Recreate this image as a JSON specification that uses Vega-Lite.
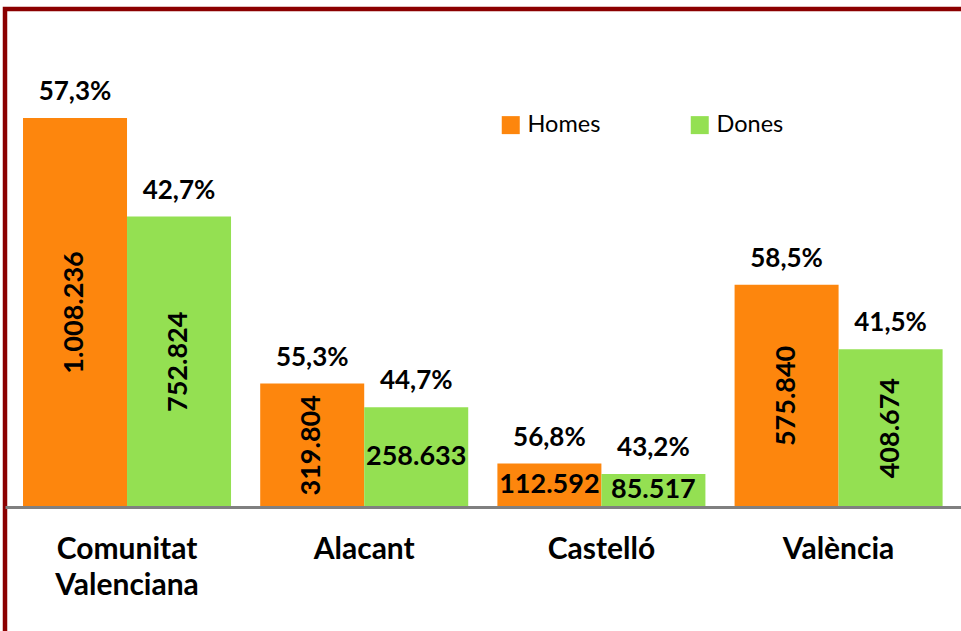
{
  "$schema": "https://vega.github.io/schema/vega-lite/v6.json",
  "autosize": {"type": "none"},
  "width": 961,
  "height": 624.5,
  "padding": {"left": 5, "top": 9, "right": -5, "bottom": -2.5},
  "background": "white",
  "config": {
    "locale": {"number": {"decimal": ",", "thousands": ".", "grouping": [3], "currency": ["", " €"]}},
    "view": {"stroke": "#8B0000", "strokeWidth": 4.5},
    "font": "Lato"
  },
  "data": {
    "values": [
      {"region": "Comunitat Valenciana", "sex": "Homes", "value": 1008236, "pct": 0.573},
      {"region": "Comunitat Valenciana", "sex": "Dones", "value": 752824, "pct": 0.427},
      {"region": "Alacant", "sex": "Homes", "value": 319804, "pct": 0.553},
      {"region": "Alacant", "sex": "Dones", "value": 258633, "pct": 0.447},
      {"region": "Castelló", "sex": "Homes", "value": 112592, "pct": 0.568},
      {"region": "Castelló", "sex": "Dones", "value": 85517, "pct": 0.432},
      {"region": "València", "sex": "Homes", "value": 575840, "pct": 0.585},
      {"region": "València", "sex": "Dones", "value": 408674, "pct": 0.415}
    ]
  },
  "encoding": {
    "x": {
      "field": "region",
      "type": "nominal",
      "sort": ["Comunitat Valenciana", "Alacant", "Castelló", "València"],
      "scale": {"paddingInner": 0.123, "paddingOuter": 0.0873, "align": 0.435},
      "axis": {
        "title": null,
        "orient": "bottom",
        "offset": -126.5,
        "ticks": false,
        "grid": false,
        "domainColor": "#808080",
        "domainWidth": 3,
        "labelFontSize": 30,
        "labelFont": "Lato",
        "labelFontWeight": "bold",
        "labelColor": "black",
        "labelPadding": 27,
        "labelAngle": 0,
        "labelLimit": 0,
        "labelExpr": "split(datum.label, ' ')",
        "labelLineHeight": 36,
        "zindex": 1
      }
    },
    "xOffset": {
      "field": "sex",
      "type": "nominal",
      "sort": ["Homes", "Dones"],
      "scale": {"paddingInner": 0, "paddingOuter": 0}
    }
  },
  "layer": [
    {
      "mark": {"type": "bar"},
      "encoding": {
        "y": {
          "field": "value",
          "type": "quantitative",
          "scale": {"domain": [-327900, 1290800], "nice": false},
          "axis": null
        },
        "color": {
          "field": "sex",
          "type": "nominal",
          "sort": ["Homes", "Dones"],
          "scale": {"domain": ["Homes", "Dones"], "range": ["#FD860D", "#94E052"]},
          "legend": {
            "title": null,
            "orient": "none",
            "legendX": 494,
            "legendY": 104,
            "direction": "horizontal",
            "symbolType": "square",
            "symbolSize": 324,
            "symbolStrokeWidth": 0,
            "symbolOpacity": 1,
            "labelFontSize": 23.5,
            "labelFont": "Lato",
            "labelColor": "black",
            "labelOffset": 5,
            "columnPadding": 87,
            "padding": 0
          }
        }
      }
    },
    {
      "mark": {"type": "text", "fontSize": 26, "fontWeight": "bold", "baseline": "middle", "align": "center", "dy": -26, "color": "black"},
      "encoding": {
        "y": {
          "field": "value",
          "type": "quantitative",
          "scale": {"domain": [-327900, 1290800], "nice": false},
          "axis": null
        },
        "text": {"field": "pct", "type": "quantitative", "format": ".1%"}
      }
    },
    {
      "mark": {"type": "text", "fontSize": 27, "fontWeight": "bold", "baseline": "middle", "align": "center", "color": "black"},
      "encoding": {
        "y": {
          "field": "value",
          "type": "quantitative",
          "scale": {"domain": [-655800, 2581600], "nice": false},
          "axis": null
        },
        "text": {"field": "value", "type": "quantitative", "format": ",d"},
        "angle": {"condition": {"test": "datum.value < 300000", "value": 0}, "value": 270}
      }
    }
  ],
  "resolve": {"scale": {"y": "independent"}}
}
